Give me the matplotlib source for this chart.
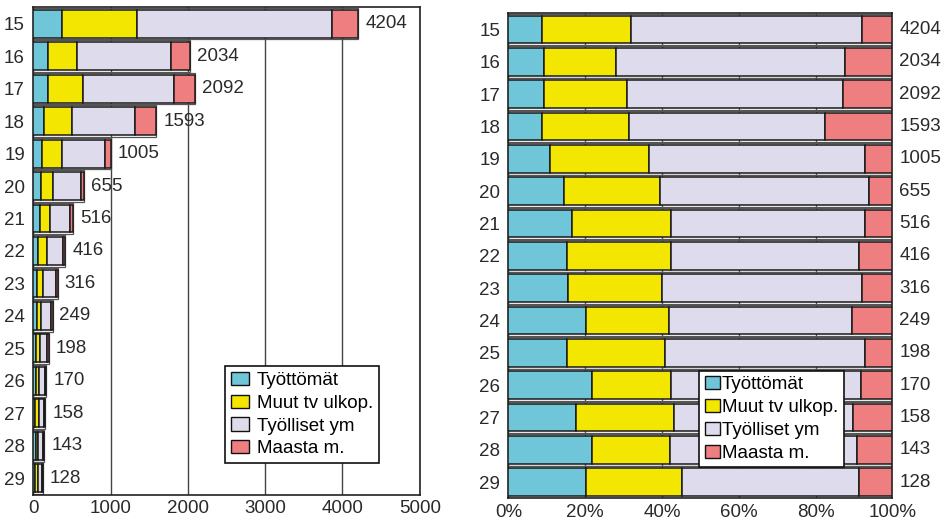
import numpy as np
import matplotlib
matplotlib.use('Agg')
import matplotlib.pyplot as plt
from matplotlib.patches import Patch

plt.rcParams['font.family'] = ['Liberation Sans', 'DejaVu Sans']

# Ikäryhmät ja luokat
ages = ['15', '16', '17', '18', '19', '20', '21', '22', '23', '24', '25', '26', '27', '28', '29']
totals = [4204, 2034, 2092, 1593, 1005, 655, 516, 416, 316, 249, 198, 170, 158, 143, 128]
tyottomat = [366, 189, 195, 139, 110, 94, 85, 64, 49, 50, 30, 37, 28, 31, 26]
muut = [980, 380, 452, 363, 257, 164, 134, 112, 77, 54, 51, 35, 40, 29, 32]
tyolliset = [2522, 1212, 1178, 812, 566, 357, 260, 204, 165, 119, 103, 84, 74, 70, 59]
maasta = [336, 253, 267, 279, 72, 40, 37, 36, 25, 26, 14, 14, 16, 13, 11]

labels = ['Työttömät', 'Muut tv ulkop.', 'Työlliset ym', 'Maasta m.']
colors = ['#6ec6d8', '#f3e600', '#dedcec', '#ee7e80']

series = np.array([tyottomat, muut, tyolliset, maasta], dtype=float)
pct = series / series.sum(axis=0) * 100

fig = plt.figure(figsize=(9.45, 5.24), dpi=100)
ax1 = fig.add_axes([0.0352, 0.056, 0.409, 0.930])
ax2 = fig.add_axes([0.538, 0.049, 0.4063, 0.9256])

y = np.arange(len(ages))
h = 0.86
txt = '#2a2a2a'


def draw_bars(ax, data):
    left = np.zeros(len(ages))
    for vals, col in zip(data, colors):
        ax.barh(y, vals, left=left, height=h, color=col, edgecolor='#1a1a1a',
                linewidth=1.1, zorder=3)
        left += vals
    # ulkoreunus koko palkin ympärille
    ax.barh(y, left, height=h + 0.12, fill=False, edgecolor='#555555',
            linewidth=0.9, zorder=2)
    return left


def style(ax):
    ax.set_ylim(len(ages) - 0.5, -0.5)
    ax.set_yticks(y)
    ax.set_yticklabels(ages)
    ax.set_axisbelow(True)
    ax.tick_params(axis='both', length=0, labelsize=13.5, colors=txt)
    ax.tick_params(axis='y', pad=6)
    ax.tick_params(axis='x', pad=4)
    for s in ax.spines.values():
        s.set_color('#222222')
        s.set_linewidth(1.2)


# Vasen kuva: lukumäärät
draw_bars(ax1, series)
for i, t in enumerate(totals):
    ax1.annotate(str(t), (t, i), xytext=(5, 0), textcoords='offset points',
                 va='center', ha='left', fontsize=13.5, color=txt)
ax1.set_xlim(0, 5000)
ax1.set_xticks([0, 1000, 2000, 3000, 4000, 5000])
ax1.grid(axis='x', color='#444444', linewidth=1.0, zorder=0)
style(ax1)

leg1 = ax1.legend([Patch(facecolor=c, edgecolor='#111111') for c in colors], labels,
                  loc='lower left', bbox_to_anchor=(0.496, 0.065), fontsize=13.5,
                  frameon=True, fancybox=False, edgecolor='#111111', framealpha=1,
                  handlelength=1.0, handleheight=0.7, handletextpad=0.4,
                  labelspacing=0.3, borderpad=0.3, borderaxespad=0)
leg1.get_frame().set_linewidth(1.2)

# Oikea kuva: prosenttiosuudet
draw_bars(ax2, pct)
for i, t in enumerate(totals):
    ax2.annotate(str(t), (1.0, i), xycoords=ax2.get_yaxis_transform(),
                 xytext=(5, 0), textcoords='offset points',
                 va='center', ha='left', fontsize=13.5, color=txt)
ax2.set_xlim(0, 100)
ax2.set_xticks([0, 20, 40, 60, 80, 100])
ax2.set_xticklabels(['0%', '20%', '40%', '60%', '80%', '100%'])
ax2.grid(axis='x', color='#555555', linewidth=1.0, zorder=0)
style(ax2)

leg2 = ax2.legend([Patch(facecolor=c, edgecolor='#111111') for c in colors], labels,
                  loc='lower left', bbox_to_anchor=(0.497, 0.064), fontsize=13.5,
                  frameon=True, fancybox=False, edgecolor='#111111', framealpha=1,
                  handlelength=0.8, handleheight=0.7, handletextpad=0.1,
                  labelspacing=0.3, borderpad=0.3, borderaxespad=0)
leg2.get_frame().set_linewidth(1.2)

fig.savefig('out.png', dpi=100)
